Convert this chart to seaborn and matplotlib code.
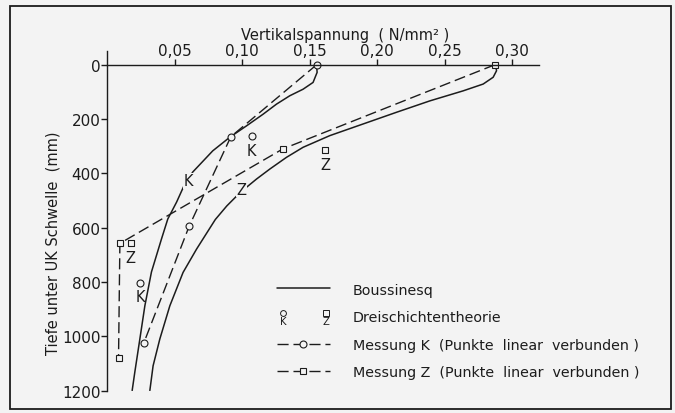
import matplotlib
matplotlib.use("Agg")
import seaborn as sns
from matplotlib import pyplot as plt
from matplotlib.lines import Line2D
from matplotlib.patches import Rectangle
from matplotlib.legend_handler import HandlerBase

# Boussinesq curves (x in N/mm2, y = depth in mm)
bous_k_x = [0.155, 0.1554, 0.1524, 0.145, 0.1352, 0.1253, 0.1154, 0.1031, 0.0907, 0.0781,
            0.0633, 0.0574, 0.0513, 0.0448, 0.0401, 0.0327, 0.0278, 0.0241, 0.0204, 0.0184]
bous_k_y = [0, 28, 65, 90, 114, 145, 182, 225, 267, 317,
            395, 439, 506, 568, 642, 763, 888, 1010, 1131, 1200]
bous_z_x = [0.2876, 0.2883, 0.2858, 0.2784, 0.2636, 0.2389, 0.2142, 0.1895, 0.1648, 0.145,
            0.1327, 0.1204, 0.1105, 0.0985, 0.0885, 0.080, 0.074, 0.0661, 0.0561, 0.0463,
            0.0389, 0.0339, 0.0315]
bous_z_y = [0, 22, 46, 71, 96, 133, 175, 218, 261, 304,
            341, 384, 421, 470, 520, 570, 617, 679, 765, 888,
            1010, 1109, 1200]

# Messungen (Punkte linear verbunden)
meas_k_x = [0.155, 0.0915, 0.0606, 0.027]
meas_k_y = [0, 265, 595, 1025]
meas_z_x = [0.287, 0.130, 0.0093, 0.0083]
meas_z_y = [0, 310, 658, 1080]

# Dreischichtentheorie
theo_k_x = [0.1068, 0.0243]
theo_k_y = [264, 805]
theo_z_x = [0.1616, 0.0172]
theo_z_y = [314, 658]

x_ticks = [0.05, 0.10, 0.15, 0.20, 0.25, 0.30]
y_ticks = [0, 200, 400, 600, 800, 1000, 1200]

ink = "#1c1c1c"
bg = "#f3f3f3"

sns.set_style("ticks")
plt.rcParams["font.family"] = ["DejaVu Sans"]

fig = plt.figure(figsize=(6.75, 4.14), dpi=100, facecolor=bg)
ax = fig.add_axes([0.159, 0.0543, 0.64, 0.8196])
ax.set_facecolor(bg)

for bx, by in [(bous_k_x, bous_k_y), (bous_z_x, bous_z_y)]:
    sns.lineplot(x=bx, y=by, orient="y", estimator=None, color=ink, linewidth=1.1, ax=ax)

dash = (0, (8, 3.5))
sns.lineplot(x=meas_k_x, y=meas_k_y, orient="y", estimator=None, color=ink, linewidth=1.0,
             linestyle=dash, marker="o", markersize=5, markerfacecolor=bg,
             markeredgecolor=ink, markeredgewidth=0.8, ax=ax)
sns.lineplot(x=meas_z_x, y=meas_z_y, orient="y", estimator=None, color=ink, linewidth=1.0,
             linestyle=dash, marker="s", markersize=4.5, markerfacecolor=bg,
             markeredgecolor=ink, markeredgewidth=0.8, ax=ax)

sns.scatterplot(x=theo_k_x, y=theo_k_y, marker="o", s=25, color=bg, edgecolor=ink,
                linewidth=0.8, ax=ax, zorder=3)
sns.scatterplot(x=theo_z_x, y=theo_z_y, marker="s", s=18, color=bg, edgecolor=ink,
                linewidth=0.8, ax=ax, zorder=3)
for tx, ty in zip(theo_k_x, theo_k_y):
    ax.text(tx, ty + 50, "K", ha="center", va="center", fontsize=10.5, color=ink)
for tx, ty in zip(theo_z_x, theo_z_y):
    ax.text(tx, ty + 52, "Z", ha="center", va="center", fontsize=10.5, color=ink)

# curve labels sitting on the Boussinesq lines
ax.text(0.060, 427, "K", ha="center", va="center", fontsize=10.5, color=ink,
        bbox=dict(fc=bg, ec="none", pad=0.3))
ax.text(0.0994, 458, "Z", ha="center", va="center", fontsize=10.5, color=ink,
        bbox=dict(fc=bg, ec="none", pad=0.3))

ax.set_xlim(0, 0.32)
ax.set_ylim(1200, -50)
ax.spines["top"].set_position(("data", 0))
ax.spines["right"].set_visible(False)
ax.spines["bottom"].set_visible(False)
for s in ["top", "left"]:
    ax.spines[s].set_color(ink)
    ax.spines[s].set_linewidth(1.0)
ax.xaxis.set_ticks_position("top")
ax.xaxis.set_label_position("top")
ax.set_xticks(x_ticks)
ax.set_xticklabels([f"{v:.2f}".replace(".", ",") for v in x_ticks])
ax.set_yticks(y_ticks)
ax.set_yticklabels([str(v) for v in y_ticks])
ax.tick_params(axis="x", direction="out", length=4, width=1, pad=1, labelsize=11, colors=ink)
ax.tick_params(axis="y", direction="out", length=4, width=1, pad=1, labelsize=11, colors=ink)

ax.set_xlabel("Vertikalspannung  ( N/mm² )", fontsize=10.5, color=ink)
ax.xaxis.set_label_coords(0.55, 1.036)
ax.set_ylabel("Tiefe unter UK Schwelle  (mm)", fontsize=10.5, color=ink)
ax.yaxis.set_label_coords(-0.108, 0.4376)


class TheoryHandler(HandlerBase):
    def create_artists(self, legend, orig_handle, xdescent, ydescent, width, height, fontsize, trans):
        arts = []
        for fx, mk, ms, letter in [(0.11, "o", 4.2, "K"), (0.92, "s", 3.8, "Z")]:
            x = -xdescent + fx * width
            m = Line2D([x], [height * 0.85 - ydescent], marker=mk, markersize=ms, markerfacecolor=bg,
                       markeredgecolor=ink, markeredgewidth=0.7, linestyle="none", transform=trans)
            t = plt.Text(x, height * 0.05 - ydescent, letter, fontsize=fontsize * 0.7,
                         ha="center", va="center", color=ink, transform=trans)
            arts += [m, t]
        return arts


h_bous = Line2D([], [], color=ink, linewidth=1.1)
h_theo = Line2D([], [])
h_mk = Line2D([], [], color=ink, linewidth=1.0, linestyle=dash, marker="o", markersize=5,
              markerfacecolor=bg, markeredgecolor=ink, markeredgewidth=0.8)
h_mz = Line2D([], [], color=ink, linewidth=1.0, linestyle=dash, marker="s", markersize=4.5,
              markerfacecolor=bg, markeredgecolor=ink, markeredgewidth=0.8)
leg = ax.legend([h_bous, h_theo, h_mk, h_mz],
                ["Boussinesq", "Dreischichtentheorie",
                 "Messung K  (Punkte  linear  verbunden )",
                 "Messung Z  (Punkte  linear  verbunden )"],
                handler_map={h_theo: TheoryHandler()},
                loc="upper left", bbox_to_anchor=(277 / 675, 1 - 283.5 / 414),
                bbox_transform=fig.transFigure, frameon=False, fontsize=10.3,
                handlelength=3.7, handletextpad=1.6, labelspacing=0.95,
                borderpad=0, borderaxespad=0)
for t in leg.get_texts():
    t.set_color(ink)

fig.add_artist(Rectangle((9.5 / 675, 1 - 410 / 414), (671 - 9.5) / 675, (410 - 6.7) / 414,
                         transform=fig.transFigure, fill=False, edgecolor=ink, linewidth=1.3))

fig.savefig("out.png", dpi=100, facecolor=bg)
